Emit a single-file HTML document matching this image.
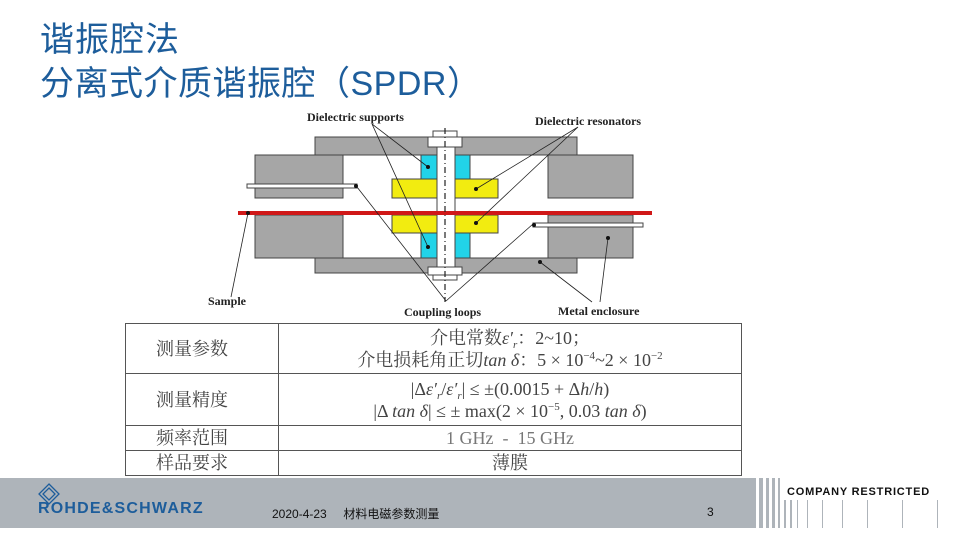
<!DOCTYPE html>
<html><head><meta charset="utf-8"><style>
body{margin:0;width:960px;height:540px;position:relative;background:#fff;overflow:hidden;font-family:"Liberation Sans","Noto Sans CJK SC",sans-serif}
.t{position:absolute;left:40px;color:#1d5d9b;font-size:34px;line-height:40px}
table{position:absolute;left:125px;top:323px;width:617px;border-collapse:collapse;font-family:"Liberation Serif","Noto Serif CJK SC",serif;color:#444;font-size:18px}
td{border:1.5px solid #555;padding:0;text-align:center;line-height:22px}
td.l{text-align:left;padding-left:30px;width:122px}
sup,sub{font-size:11px;line-height:0;position:relative;vertical-align:baseline}
sup{top:-7px}sub{top:4px}
.foot{position:absolute;left:0;top:478px;width:752px;height:50px;background:#aeb4ba}
</style></head><body>
<div class="t" style="top:20px;letter-spacing:1px">谐振腔法</div>
<div class="t" style="top:64px;letter-spacing:0.5px">分离式介质谐振腔（SPDR）</div>
<svg style="position:absolute;left:0;top:0" width="960" height="540" font-family="Liberation Serif" font-weight="bold" font-size="12">
<g fill="#a6a6a6" stroke="#444" stroke-width="1">
<rect x="315" y="137" width="262" height="18"/>
<rect x="315" y="258" width="262" height="15"/>
<rect x="255" y="155" width="88" height="43"/>
<rect x="255" y="215" width="88" height="43"/>
<rect x="548" y="155" width="85" height="43"/>
<rect x="548" y="215" width="85" height="43"/>
</g>
<g stroke="#444" stroke-width="1">
<rect x="421" y="155" width="49" height="25" fill="#22d3e8"/>
<rect x="421" y="233" width="49" height="25" fill="#22d3e8"/>
<rect x="392" y="179" width="106" height="19" fill="#f2ec10"/>
<rect x="392" y="215" width="106" height="18" fill="#f2ec10"/>
<rect x="437" y="140" width="18" height="132" fill="#fff"/>
<rect x="428" y="137" width="34" height="10" fill="#fff"/>
<rect x="433" y="131" width="24" height="6" fill="#fff"/>
<rect x="428" y="267" width="34" height="8" fill="#fff"/>
<rect x="433" y="275" width="24" height="5" fill="#fff"/>
<rect x="247" y="184" width="110" height="4" fill="#fff"/>
<rect x="533" y="223" width="110" height="4" fill="#fff"/>
</g>
<rect x="238" y="211" width="414" height="4" fill="#d01818"/>
<line x1="445" y1="128" x2="445" y2="302" stroke="#222" stroke-width="1.2" stroke-dasharray="6,3,1,3"/>
<g stroke="#222" stroke-width="0.8" fill="none">
<path d="M372 124L428 167M372 124L428 247"/>
<path d="M578 127L476 189M578 127L476 223"/>
<path d="M248 213L231 297"/>
<path d="M446 301L357 187M446 301L533 224"/>
<path d="M592 302L540 262M600 302L608 238"/>
</g>
<g fill="#111"><circle cx="428" cy="167" r="2"/><circle cx="428" cy="247" r="2"/><circle cx="476" cy="189" r="2"/><circle cx="476" cy="223" r="2"/><circle cx="248" cy="213" r="2"/><circle cx="356" cy="186" r="2"/><circle cx="534" cy="225" r="2"/><circle cx="540" cy="262" r="2"/><circle cx="608" cy="238" r="2"/></g>
<g fill="#222">
<text x="307" y="121">Dielectric supports</text>
<text x="535" y="125">Dielectric resonators</text>
<text x="208" y="305">Sample</text>
<text x="404" y="316">Coupling loops</text>
<text x="558" y="315">Metal enclosure</text>
</g>
</svg>
<table>
<tr style="height:50px"><td class="l">测量参数</td><td>介电常数<i>ε′<sub>r</sub></i>：2~10；<br>介电损耗角正切<i>tan δ</i>：5 × 10<sup>−4</sup>~2 × 10<sup>−2</sup></td></tr>
<tr style="height:52px"><td class="l">测量精度</td><td>|Δ<i>ε′<sub>r</sub></i>/<i>ε′<sub>r</sub></i>| ≤ ±(0.0015 + Δ<i>h</i>/<i>h</i>)<br>|Δ <i>tan δ</i>| ≤ ± max(2 × 10<sup>−5</sup>, 0.03 <i>tan δ</i>)</td></tr>
<tr style="height:25px"><td class="l">频率范围</td><td style="color:#777">1 GHz &nbsp;- &nbsp;15 GHz</td></tr>
<tr style="height:25px"><td class="l">样品要求</td><td>薄膜</td></tr>
</table>
<div class="foot"></div>
<svg style="position:absolute;left:752px;top:478px" width="208" height="50">
<g fill="#aeb4ba"><rect x="0" y="0" width="4" height="50"/><rect x="7" y="0" width="4" height="50"/><rect x="14" y="0" width="3" height="50"/><rect x="20" y="0" width="3" height="50"/><rect x="26" y="0" width="2" height="50"/><rect x="32" y="22" width="2" height="28"/><rect x="38" y="22" width="2" height="28"/><rect x="45" y="22" width="1" height="28"/><rect x="55" y="22" width="1" height="28"/><rect x="70" y="22" width="1" height="28"/><rect x="90" y="22" width="1" height="28"/><rect x="115" y="22" width="1" height="28"/><rect x="150" y="22" width="1" height="28"/><rect x="185" y="22" width="1" height="28"/></g>
</svg>
<div style="position:absolute;left:787px;top:486px;font-size:11px;font-weight:bold;letter-spacing:0.8px;color:#111">COMPANY RESTRICTED</div>
<svg style="position:absolute;left:38px;top:483px" width="22" height="22"><path d="M11 1L21 11L11 21L1 11Z M11 5L17 11L11 17L5 11Z" fill="none" stroke="#1d5d9b" stroke-width="1.3"/></svg>
<div style="position:absolute;left:38px;top:500px;font-size:16px;font-weight:bold;color:#1d5d9b;letter-spacing:1.2px">ROHDE&amp;SCHWARZ</div>
<div style="position:absolute;left:272px;top:505px;font-size:12px;color:#111">2020-4-23 &nbsp; &nbsp; 材料电磁参数测量</div>
<div style="position:absolute;left:707px;top:505px;font-size:12px;color:#111">3</div>
</body></html>
